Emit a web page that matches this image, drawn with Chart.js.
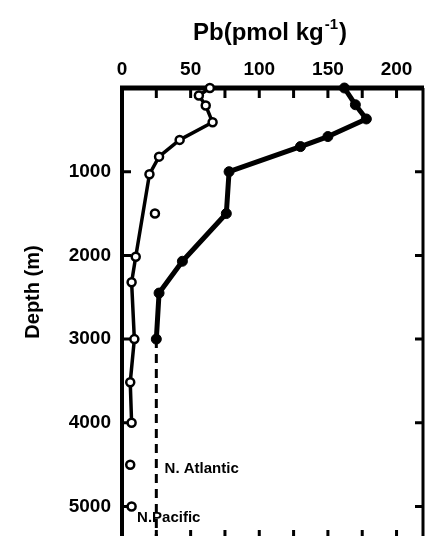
<!DOCTYPE html>
<html>
<head>
<meta charset="utf-8">
<script src="https://cdn.jsdelivr.net/npm/chart.js@4"></script>
<style>
  html, body { margin: 0; padding: 0; background: #fff; overflow: hidden; }
  #wrap { width: 425px; height: 548px; }
</style>
</head>
<body>
<div id="wrap"><canvas id="pbChart" width="425" height="548"></canvas></div>
<script>
// Pb profiles (depth in m, Pb in pmol/kg)
const depthsPacific = [0, 90, 210, 410, 620, 820, 1030, 2015, 2320, 3000, 3515, 4000]
const pbPacific = [64, 56, 61, 66, 42, 27, 20, 10, 7, 9, 6, 7]
const depthsPacificLoose = [1500, 4500, 5000]
const pbPacificLoose = [24, 6, 7]
const depthsAtlantic = [0, 200, 370, 580, 700, 1000, 1500, 2070, 2450, 3000]
const pbAtlantic = [162, 170, 178, 150, 130, 78, 76, 44, 27, 25]
const depthsAtlanticDeep = [3000, 5400]
const pbAtlanticDeep = [25, 25]

const pbTickLabels = [0, 50, 100, 150, 200]
const pbMinorTicks = [25, 50, 75, 100, 125, 150, 175, 200]
const depthTickLabels = [1000, 2000, 3000, 4000, 5000]

const FONT = '"Liberation Sans", Arial, sans-serif'

const toPoints = (xs, ys) => xs.map((x, i) => ({ x: x, y: ys[i] }))

// Frame, ticks and labels drawn by hand like the old printed figure
const framePlugin = {
  id: "frame",
  beforeDatasetsDraw(chart) {
    const { ctx, chartArea: a, scales } = chart
    const xs = scales.x
    const ys = scales.y
    ctx.save()
    ctx.strokeStyle = "#000"
    ctx.lineCap = "butt"

    // box
    ctx.lineWidth = 5
    ctx.beginPath()
    ctx.moveTo(a.left - 2, a.top)
    ctx.lineTo(a.right, a.top)
    ctx.stroke()
    ctx.lineWidth = 4
    ctx.beginPath()
    ctx.moveTo(a.left, a.top)
    ctx.lineTo(a.left, a.bottom)
    ctx.stroke()
    ctx.lineWidth = 3
    ctx.beginPath()
    ctx.moveTo(a.right - 1, a.top)
    ctx.lineTo(a.right - 1, a.bottom)
    ctx.moveTo(a.left, a.bottom)
    ctx.lineTo(a.right, a.bottom)
    ctx.stroke()

    // top and bottom ticks
    ctx.lineWidth = 3
    pbMinorTicks.forEach((v) => {
      const px = xs.getPixelForValue(v)
      ctx.beginPath()
      ctx.moveTo(px, a.top)
      ctx.lineTo(px, a.top + 10)
      ctx.moveTo(px, a.bottom)
      ctx.lineTo(px, a.bottom - 10)
      ctx.stroke()
    })

    // left and right ticks
    depthTickLabels.forEach((d) => {
      const py = ys.getPixelForValue(d)
      ctx.beginPath()
      ctx.moveTo(a.left, py)
      ctx.lineTo(a.left + 9, py)
      ctx.moveTo(a.right, py)
      ctx.lineTo(a.right - 9, py)
      ctx.stroke()
    })

    // tick labels
    ctx.fillStyle = "#000"
    ctx.font = "bold 19px " + FONT
    ctx.textAlign = "center"
    ctx.textBaseline = "middle"
    pbTickLabels.forEach((v) => {
      ctx.fillText(String(v), xs.getPixelForValue(v), a.top - 18)
    })
    ctx.textAlign = "right"
    depthTickLabels.forEach((d) => {
      ctx.fillText(String(d), a.left - 11, ys.getPixelForValue(d))
    })

    // title with superscript
    ctx.font = "bold 24px " + FONT
    ctx.textAlign = "left"
    const t1 = "Pb(pmol kg"
    const w1 = ctx.measureText(t1).width
    ctx.font = "bold 15px " + FONT
    const w2 = ctx.measureText("-1").width
    ctx.font = "bold 24px " + FONT
    const w3 = ctx.measureText(")").width
    let x0 = 270 - (w1 + w2 + w3 + 2) / 2
    ctx.fillText(t1, x0, 33)
    ctx.font = "bold 15px " + FONT
    ctx.fillText("-1", x0 + w1 + 1, 25)
    ctx.font = "bold 24px " + FONT
    ctx.fillText(")", x0 + w1 + w2 + 2, 33)

    // y title
    ctx.save()
    ctx.translate(33, 292)
    ctx.rotate(-Math.PI / 2)
    ctx.textAlign = "center"
    ctx.font = "bold 20px " + FONT
    ctx.fillText("Depth (m)", 0, 0)
    ctx.restore()

    // series labels
    ctx.font = "bold 15px " + FONT
    ctx.textAlign = "left"
    ctx.fillText("N. Atlantic", xs.getPixelForValue(31), ys.getPixelForValue(4550))
    ctx.fillText("N.Pacific", xs.getPixelForValue(11), ys.getPixelForValue(5140))

    ctx.restore()
  },
}

const ctx = document.getElementById("pbChart").getContext("2d")

new Chart(ctx, {
  type: "scatter",
  data: {
    datasets: [
      {
        label: "N. Atlantic deep",
        data: toPoints(pbAtlanticDeep, depthsAtlanticDeep),
        showLine: true,
        borderColor: "#000",
        borderWidth: 3,
        borderDash: [9, 6],
        pointRadius: 0,
      },
      {
        label: "N. Atlantic",
        data: toPoints(pbAtlantic, depthsAtlantic),
        showLine: true,
        borderColor: "#000",
        borderWidth: 5,
        pointRadius: 5,
        pointBackgroundColor: "#000",
        pointBorderColor: "#000",
        pointBorderWidth: 1,
      },
      {
        label: "N. Pacific",
        data: toPoints(pbPacific, depthsPacific),
        showLine: true,
        borderColor: "#000",
        borderWidth: 3.5,
        pointRadius: 4,
        pointBackgroundColor: "#fff",
        pointBorderColor: "#000",
        pointBorderWidth: 2.5,
      },
      {
        label: "N. Pacific (loose)",
        data: toPoints(pbPacificLoose, depthsPacificLoose),
        showLine: false,
        pointRadius: 4,
        pointBackgroundColor: "#fff",
        pointBorderColor: "#000",
        pointBorderWidth: 2.5,
      },
    ],
  },
  options: {
    responsive: false,
    animation: false,
    clip: false,
    layout: {
      autoPadding: false,
      padding: { left: 122, top: 88, right: 1, bottom: 8 },
    },
    elements: {
      line: { tension: 0, borderJoinStyle: "round" },
    },
    scales: {
      x: { type: "linear", min: 0, max: 220, display: false },
      y: { type: "linear", min: 0, max: 5400, reverse: true, display: false },
    },
    plugins: {
      legend: { display: false },
      tooltip: { enabled: false },
    },
  },
  plugins: [framePlugin],
})
</script>
</body>
</html>
